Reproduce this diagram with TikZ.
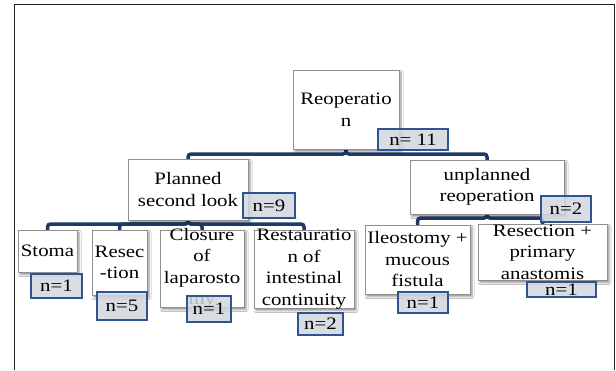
\documentclass[tikz,border=0pt]{standalone}
\usepackage{fontspec}
\setmainfont{Liberation Serif}[FakeStretch=1.19]
\usetikzlibrary{shadows.blur}
\definecolor{boxgray}{HTML}{8F8F8F}
\definecolor{nfill}{HTML}{D3D6DE}
\definecolor{nborder}{HTML}{2E5590}
\definecolor{connblue}{HTML}{1F3A66}
\definecolor{framec}{HTML}{222222}
\tikzset{
  box/.style={draw=boxgray, line width=1pt, fill=white, inner sep=0pt,
    blur shadow={shadow xshift=2pt, shadow yshift=-2.5pt, shadow blur radius=2pt, shadow opacity=45}},
  lbl/.style={inner sep=0pt, align=center, font=\fontsize{17.5}{21.5}\selectfont},
  nbox/.style={draw=nborder, line width=1.4pt, fill=nfill, fill opacity=0.85, text opacity=1,
    inner sep=0pt, font=\fontsize{17.5}{21.5}\selectfont},
  conn/.style={draw=connblue, line width=3.5pt, rounded corners=3pt},
}
\begin{document}
\begin{tikzpicture}[x=1pt,y=-1pt]
\useasboundingbox (0,0) rectangle (616,370);
\fill[white] (0,0) rectangle (616,370);
% frame
\draw[framec, line width=1pt] (14,370) -- (14,4.5) -- (614.5,4.5) -- (614.5,370);
% bar levels
\coordinate (b1) at (0,154);
\coordinate (b2) at (0,224);
\coordinate (b3) at (0,218);
% box centres
\path
  (346,109.5) coordinate (cR)
  (188,189.5) coordinate (cP)
  (487,187)   coordinate (cU)
  (47.5,251)  coordinate (cS)
  (119.5,262.5) coordinate (cRes)
  (202,268.5) coordinate (cC)
  (304,269)   coordinate (cRest)
  (417.5,259.5) coordinate (cI)
  (542.5,252) coordinate (cRP);
% invisible anchors for connectors
\node[inner sep=0pt, minimum width=106pt, minimum height=79pt] (R) at (cR) {};
\node[inner sep=0pt, minimum width=120pt, minimum height=61pt] (P) at (cP) {};
\node[inner sep=0pt, minimum width=154pt, minimum height=54pt] (U) at (cU) {};
\node[inner sep=0pt, minimum width=59pt, minimum height=42pt] (S) at (cS) {};
\node[inner sep=0pt, minimum width=55pt, minimum height=65pt] (Res) at (cRes) {};
\node[inner sep=0pt, minimum width=84pt, minimum height=77pt] (C) at (cC) {};
\node[inner sep=0pt, minimum width=100pt, minimum height=78pt] (Rest) at (cRest) {};
\node[inner sep=0pt, minimum width=105pt, minimum height=69pt] (I) at (cI) {};
\node[inner sep=0pt, minimum width=129pt, minimum height=56pt] (RP) at (cRP) {};
% connectors
\draw[conn] (R.south) -- (R.south |- b1) -| (P.north);
\draw[conn] (R.south) -- (R.south |- b1) -| (U.north);
\draw[conn] (P.south) -- (P.south |- b2) -| (S.north);
\draw[conn] (P.south) -- (P.south |- b2) -| (Res.north);
\draw[conn] (P.south) -- (P.south |- b2) -| (C.north);
\draw[conn] (P.south) -- (P.south |- b2) -| (Rest.north);
\draw[conn] (U.south) -- (U.south |- b3) -| (I.north);
\draw[conn] (U.south) -- (U.south |- b3) -| (RP.north);
% visible boxes
\node[box, minimum width=106pt, minimum height=79pt] (Rb) at (cR) {};
\node[box, minimum width=120pt, minimum height=61pt] (Pb) at (cP) {};
\node[box, minimum width=154pt, minimum height=54pt] (Ub) at (cU) {};
\node[box, minimum width=59pt, minimum height=42pt] (Sb) at (cS) {};
\node[box, minimum width=55pt, minimum height=65pt] (Resb) at (cRes) {};
\node[box, minimum width=84pt, minimum height=77pt] (Cb) at (cC) {};
\node[box, minimum width=100pt, minimum height=78pt] (Restb) at (cRest) {};
\node[box, minimum width=105pt, minimum height=69pt] (Ib) at (cI) {};
\node[box, minimum width=129pt, minimum height=56pt] (RPb) at (cRP) {};
% texts
\node[lbl] (Rt) at (cR) {Reoperatio\\n};
\node[lbl] (Pt) at (cP) {Planned\\second look};
\node[lbl] (Ut) at (cU) {unplanned\\reoperation};
\node[lbl] (St) at (cS) {Stoma};
\node[lbl] (Rest1) at (cRes) {Resec\\-tion};
\node[lbl] (Ct) at (cC) {Closure\\of\\laparosto\\my};
\node[lbl] (Restt) at (cRest) {Restauratio\\n of\\intestinal\\continuity};
\node[lbl] (It) at (cI) {Ileostomy +\\mucous\\fistula};
\node[lbl] (RPt) at (cRP) {Resection +\\primary\\anastomis};
% n boxes
\node[nbox, minimum width=70pt, minimum height=21pt] (nR) at (413,139.5) {n= 11};
\node[nbox, minimum width=52pt, minimum height=25pt] (nP) at (269,205.5) {n=9};
\node[nbox, minimum width=50pt, minimum height=26pt] (nU) at (566,209) {n=2};
\node[nbox, minimum width=51pt, minimum height=24pt] (nS) at (56.5,286) {n=1};
\node[nbox, minimum width=50pt, minimum height=28pt] (nRes) at (122,306) {n=5};
\node[nbox, minimum width=44pt, minimum height=26pt] (nC) at (209,309) {n=1};
\node[nbox, minimum width=45pt, minimum height=22pt] (nRest) at (320.5,324) {n=2};
\node[nbox, minimum width=50pt, minimum height=21pt] (nI) at (423,302.5) {n=1};
\node[nbox, minimum width=69pt, minimum height=15pt] (nRP) at (561.5,289.5) {n=1};
\end{tikzpicture}
\end{document}
